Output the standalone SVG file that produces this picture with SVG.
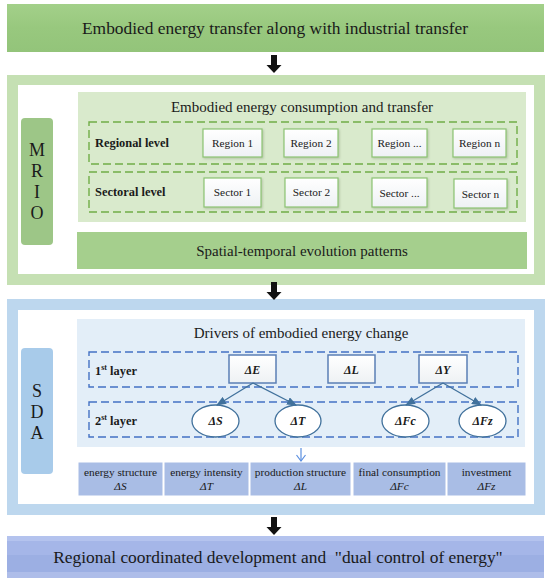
<svg xmlns="http://www.w3.org/2000/svg" width="550" height="586" viewBox="0 0 550 586" font-family="'Liberation Serif', 'DejaVu Serif', serif">
<style>
text{font-family:'Liberation Serif','DejaVu Serif',serif;fill:#1a1a1a}
.t18{font-size:17.4px}
.t16{font-size:15px}
.t20{font-size:18px}
.lbl{font-size:12.4px;font-weight:bold}
.sm{font-size:11.3px}
.bi{font-size:12px;font-weight:bold;font-style:italic}
.gdash{fill:none;stroke:#70ad47;stroke-width:1.4;stroke-dasharray:8 4}
.bdash{fill:none;stroke:#4472c4;stroke-width:1.4;stroke-dasharray:8 4}
.gbox{fill:url(#wg);stroke:#8cc372;stroke-width:1.2;filter:url(#sh)}
.bbox{fill:url(#wg);stroke:#5b7fb5;stroke-width:1.5}
.ell{fill:#ffffff;stroke:#41719c;stroke-width:1.3}
.conn{stroke:#41719c;stroke-width:1.3;fill:none;marker-end:url(#ah)}
.drv{fill:#a9bde5;stroke:#ffffff;stroke-width:1}
</style>
<defs>
<filter id="sh" x="-10%" y="-10%" width="125%" height="130%"><feDropShadow dx="1" dy="1.2" stdDeviation="0.8" flood-color="#6a7a60" flood-opacity="0.35"/></filter>
<linearGradient id="wg" x1="0" y1="0" x2="0" y2="1"><stop offset="0" stop-color="#ffffff"/><stop offset="1" stop-color="#eef1f4"/></linearGradient>
<linearGradient id="topg" x1="0" y1="0" x2="0" y2="1"><stop offset="0" stop-color="#a3d08a"/><stop offset="0.5" stop-color="#98c87e"/><stop offset="1" stop-color="#93c47a"/></linearGradient>
<linearGradient id="botg" x1="0" y1="0" x2="0" y2="1"><stop offset="0" stop-color="#b4c3ee"/><stop offset="0.12" stop-color="#b4c3ee"/><stop offset="0.13" stop-color="#a5b6e8"/><stop offset="0.45" stop-color="#a5b6e8"/><stop offset="0.46" stop-color="#9cafe3"/><stop offset="0.85" stop-color="#9cafe3"/><stop offset="0.86" stop-color="#aebde9"/><stop offset="1" stop-color="#aebde9"/></linearGradient>
<marker id="ah" markerWidth="10" markerHeight="8" refX="9" refY="4" orient="auto" markerUnits="userSpaceOnUse"><path d="M0,0 L10,4 L0,8 Z" fill="#41719c"/></marker>
<marker id="oh" markerWidth="10" markerHeight="8" refX="5" refY="7" orient="0" markerUnits="userSpaceOnUse"><path d="M0.5,1 L5,7 L9.5,1" fill="none" stroke="#5b8fe0" stroke-width="1.2"/></marker>
<path id="bigarrow" d="M-3,0 H3 V10 H7.5 L0,18 L-7.5,10 H-3 Z" fill="#111"/>
</defs>

<g id="top-banner">
<rect x="7" y="4" width="537" height="48" fill="url(#topg)"/>
<text class="t18" x="275" y="34" text-anchor="middle">Embodied energy transfer along with industrial transfer</text>
</g>

<g id="mrio-section">
<rect x="7" y="75" width="538" height="210" fill="#c5e0b3"/>
<rect x="18" y="85" width="516" height="189" fill="#ffffff"/>
</g>

<g id="mrio-label">
<rect x="21" y="118" width="32" height="127" rx="4" fill="#9dc687"/>
<text class="t20" x="37" y="156" text-anchor="middle">M</text>
<text class="t20" x="37" y="177" text-anchor="middle">R</text>
<text class="t20" x="37" y="198" text-anchor="middle">I</text>
<text class="t20" x="37" y="219" text-anchor="middle">O</text>
</g>

<g id="embodied-panel">
<rect x="78" y="92" width="448" height="130" fill="#d9eacc"/>
<text class="t16" x="302" y="112" text-anchor="middle">Embodied energy consumption and transfer</text>
</g>

<g id="regional-level">
<rect class="gdash" x="89" y="122" width="428" height="42"/>
<text class="lbl" x="95" y="147">Regional level</text>
</g>
<g id="region-1"><rect class="gbox" x="203" y="129" width="59" height="28"/><text class="sm" x="232.5" y="146.5" text-anchor="middle">Region 1</text></g>
<g id="region-2"><rect class="gbox" x="284" y="129" width="54" height="28"/><text class="sm" x="311" y="146.5" text-anchor="middle">Region 2</text></g>
<g id="region-dots"><rect class="gbox" x="372" y="129" width="55" height="28"/><text class="sm" x="399.5" y="146.5" text-anchor="middle">Region ...</text></g>
<g id="region-n"><rect class="gbox" x="453" y="129" width="53" height="28"/><text class="sm" x="479.5" y="146.5" text-anchor="middle">Region n</text></g>

<g id="sectoral-level">
<rect class="gdash" x="89" y="172" width="428" height="40"/>
<text class="lbl" x="95" y="196">Sectoral level</text>
</g>
<g id="sector-1"><rect class="gbox" x="204" y="178" width="57" height="29"/><text class="sm" x="232.5" y="196" text-anchor="middle">Sector 1</text></g>
<g id="sector-2"><rect class="gbox" x="285" y="178" width="53" height="29"/><text class="sm" x="311.5" y="196" text-anchor="middle">Sector 2</text></g>
<g id="sector-dots"><rect class="gbox" x="372" y="178" width="55" height="29"/><text class="sm" x="399.5" y="196.5" text-anchor="middle">Sector ...</text></g>
<g id="sector-n"><rect class="gbox" x="454" y="179" width="53" height="29"/><text class="sm" x="480.5" y="197.5" text-anchor="middle">Sector n</text></g>

<g id="spatial-temporal">
<rect x="77" y="232" width="450" height="37" fill="#a5cf8d"/>
<text class="t16" x="302" y="255.5" text-anchor="middle">Spatial-temporal evolution patterns</text>
</g>

<g id="sda-section">
<rect x="7" y="299" width="538" height="216" fill="#bdd7ee"/>
<rect x="18" y="310" width="516" height="194" fill="#ffffff"/>
</g>

<g id="sda-label">
<rect x="21" y="348" width="32" height="126" rx="4" fill="#a8cbea"/>
<text class="t20" x="37" y="397" text-anchor="middle">S</text>
<text class="t20" x="37" y="418" text-anchor="middle">D</text>
<text class="t20" x="37" y="439" text-anchor="middle">A</text>
</g>

<g id="drivers-panel">
<rect x="77" y="319" width="448" height="128" fill="#e3eef8"/>
<text class="t16" x="301" y="338" text-anchor="middle">Drivers of embodied energy change</text>
</g>

<g id="layer-1">
<rect class="bdash" x="89" y="352" width="429" height="35"/>
<text class="lbl" x="95" y="374.5">1<tspan font-size="8" dy="-5">st</tspan><tspan dy="5"> layer</tspan></text>
</g>
<g id="layer-2">
<rect class="bdash" x="89" y="402" width="429" height="35"/>
<text class="lbl" x="95" y="424.5">2<tspan font-size="8" dy="-5">st</tspan><tspan dy="5"> layer</tspan></text>
</g>

<g id="dE"><rect class="bbox" x="229" y="355" width="47" height="28"/><text class="bi" x="252.5" y="373.5" text-anchor="middle">ΔE</text></g>
<g id="dL"><rect class="bbox" x="328" y="355" width="47" height="28"/><text class="bi" x="351.5" y="373.5" text-anchor="middle">ΔL</text></g>
<g id="dY"><rect class="bbox" x="419" y="355" width="48" height="28"/><text class="bi" x="443" y="373.5" text-anchor="middle">ΔY</text></g>

<g id="dS"><ellipse class="ell" cx="215.5" cy="421" rx="23.5" ry="16"/><text class="bi" x="215.5" y="425" text-anchor="middle">ΔS</text></g>
<g id="dT"><ellipse class="ell" cx="298" cy="421" rx="23" ry="16"/><text class="bi" x="298" y="425" text-anchor="middle">ΔT</text></g>
<g id="dFc"><ellipse class="ell" cx="405.5" cy="421" rx="23.5" ry="16"/><text class="bi" x="405.5" y="425" text-anchor="middle">ΔFc</text></g>
<g id="dFz"><ellipse class="ell" cx="482.5" cy="421" rx="23.5" ry="16"/><text class="bi" x="482.5" y="425" text-anchor="middle">ΔFz</text></g>

<g id="drv-S"><rect class="drv" x="78" y="462" width="85" height="34"/><text class="sm" x="120.5" y="476" text-anchor="middle">energy structure</text><text class="sm" x="120.5" y="489.5" text-anchor="middle" font-style="italic">ΔS</text></g>
<g id="drv-T"><rect class="drv" x="164" y="462" width="85" height="34"/><text class="sm" x="206.5" y="476" text-anchor="middle">energy intensity</text><text class="sm" x="206.5" y="489.5" text-anchor="middle" font-style="italic">ΔT</text></g>
<g id="drv-L"><rect class="drv" x="250" y="462" width="101" height="34"/><text class="sm" x="300.5" y="476" text-anchor="middle">production structure</text><text class="sm" x="300.5" y="489.5" text-anchor="middle" font-style="italic">ΔL</text></g>
<g id="drv-Fc"><rect class="drv" x="353" y="462" width="93" height="34"/><text class="sm" x="399.5" y="476" text-anchor="middle">final consumption</text><text class="sm" x="399.5" y="489.5" text-anchor="middle" font-style="italic">ΔFc</text></g>
<g id="drv-Fz"><rect class="drv" x="447" y="462" width="79" height="34"/><text class="sm" x="486.5" y="476" text-anchor="middle">investment</text><text class="sm" x="486.5" y="489.5" text-anchor="middle" font-style="italic">ΔFz</text></g>

<g id="bottom-banner">
<rect x="7" y="536" width="537" height="42" fill="url(#botg)"/>
<text class="t18" x="278" y="563" text-anchor="middle">Regional coordinated development and &#160;"dual control of energy"</text>
</g>

<g id="connectors">
<use href="#bigarrow" x="274" y="55"/>
<use href="#bigarrow" x="274" y="282"/>
<use href="#bigarrow" x="274" y="517"/>
<line class="conn" x1="253" y1="383" x2="217" y2="405"/>
<line class="conn" x1="253" y1="383" x2="296" y2="405"/>
<line class="conn" x1="443" y1="383" x2="406" y2="405"/>
<line class="conn" x1="443" y1="383" x2="481" y2="405"/>
<line x1="301" y1="448" x2="301" y2="461" stroke="#5b8fe0" stroke-width="1.2" marker-end="url(#oh)"/>
</g>
</svg>
